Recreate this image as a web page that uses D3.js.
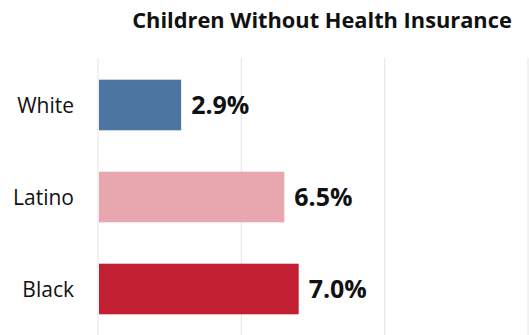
<!DOCTYPE html>
<html>
<head>
<meta charset="utf-8">
<script src="https://cdn.jsdelivr.net/npm/d3@7"></script>
<style>
  html, body { margin: 0; padding: 0; background: #ffffff; }
  svg { display: block; }
  text { font-family: "Open Sans", "Liberation Sans", sans-serif; }
</style>
</head>
<body>
<svg id="chart" width="529" height="335"></svg>
<script>
const categories = ["White", "Latino", "Black"];
const values = [2.9, 6.5, 7.0];
const valueLabels = ["2.9%", "6.5%", "7.0%"];
const barColors = ["#4C75A2", "#E8A7AF", "#C21F33"];
const gridTicks = [0, 5, 10, 15];
const title = "Children Without Health Insurance";

const svg = d3.select("#chart");
const W = 529, H = 335;

const x = d3.scaleLinear().domain([0, 15]).range([98, 528]);
const y = d3.scaleBand().domain(categories).range([59, 335]).paddingInner(0.45).paddingOuter(0.225);

// gridlines
svg.append("g").selectAll("line").data(gridTicks).join("line")
  .attr("x1", d => x(d)).attr("x2", d => x(d))
  .attr("y1", 58).attr("y2", H)
  .attr("stroke", "#e4e4e4").attr("stroke-width", 1);

// title
svg.append("text")
  .attr("x", 322).attr("y", 28)
  .attr("text-anchor", "middle")
  .attr("font-size", 21.8).attr("font-weight", "bold")
  .attr("fill", "#111")
  .text(title);

// bars
svg.append("g").selectAll("rect").data(categories).join("rect")
  .attr("x", x(0) + 1)
  .attr("y", d => y(d))
  .attr("width", (d, i) => x(values[i]) - x(0) - 1)
  .attr("height", y.bandwidth())
  .attr("fill", (d, i) => barColors[i]);

// category labels
svg.append("g").selectAll("text").data(categories).join("text")
  .attr("x", 74)
  .attr("y", d => y(d) + y.bandwidth() / 2)
  .attr("dy", "0.36em")
  .attr("text-anchor", "end")
  .attr("font-size", 21)
  .attr("fill", "#111")
  .text(d => d);

// value labels
svg.append("g").selectAll("text").data(categories).join("text")
  .attr("x", (d, i) => x(values[i]) + 10)
  .attr("y", d => y(d) + y.bandwidth() / 2)
  .attr("dy", "0.36em")
  .attr("font-size", 25)
  .attr("font-weight", "bold")
  .attr("fill", "#111")
  .text((d, i) => valueLabels[i]);
</script>
</body>
</html>
